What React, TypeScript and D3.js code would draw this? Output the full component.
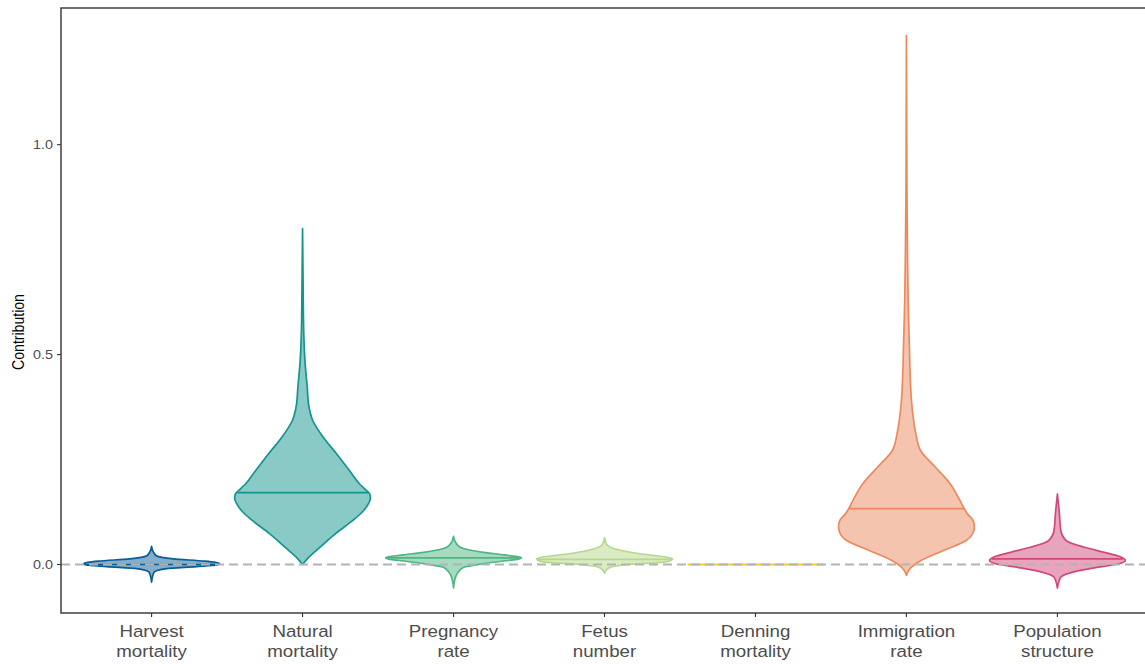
import React from "react";
import * as d3 from "d3";

// Category labels (two lines each)
const labelTop = ["Harvest", "Natural", "Pregnancy", "Fetus", "Denning", "Immigration", "Population"];
const labelBottom = ["mortality", "mortality", "rate", "number", "mortality", "rate", "structure"];

// Density profiles: [contribution value, relative half-width (1 = widest)]
const harvestDensity: [number, number][] = [
  [-0.042, 0], [-0.03, 0.012], [-0.018, 0.04], [-0.01, 0.22], [-0.005, 0.66], [-0.001, 0.96],
  [0.002, 1], [0.005, 0.94], [0.008, 0.78], [0.0135, 0.32], [0.021, 0.07], [0.03, 0.025], [0.043, 0],
];
const naturalDensity: [number, number][] = [
  [0, 0], [0.017, 0.09], [0.04, 0.25], [0.074, 0.49], [0.105, 0.74], [0.125, 0.88], [0.145, 0.97],
  [0.158, 1], [0.168, 0.99], [0.178, 0.93], [0.19, 0.85], [0.224, 0.69], [0.264, 0.5],
  [0.302, 0.31], [0.343, 0.15], [0.38, 0.09], [0.42, 0.07], [0.486, 0.035], [0.55, 0.018],
  [0.6, 0.012], [0.7, 0.006], [0.8, 0],
];
const pregnancyDensity: [number, number][] = [
  [-0.056, 0], [-0.03, 0.03], [-0.018, 0.07], [-0.0064, 0.15], [0.0016, 0.42], [0.0095, 0.8],
  [0.013, 0.95], [0.016, 1], [0.019, 0.93], [0.023, 0.75], [0.029, 0.44], [0.041, 0.1],
  [0.053, 0.03], [0.067, 0],
];
const fetusDensity: [number, number][] = [
  [-0.021, 0], [-0.012, 0.03], [-0.006, 0.1], [0, 0.37], [0.0056, 0.88], [0.01, 0.98],
  [0.0135, 1], [0.018, 0.9], [0.025, 0.55], [0.037, 0.16], [0.048, 0.03], [0.064, 0],
];
const denningDensity: [number, number][] = [[0, 1]];
const immigrationDensity: [number, number][] = [
  [-0.026, 0], [-0.015, 0.03], [-0.007, 0.07], [0.01, 0.22], [0.033, 0.54], [0.057, 0.88],
  [0.075, 0.98], [0.09, 1], [0.105, 0.98], [0.12, 0.9], [0.133, 0.85], [0.152, 0.79],
  [0.193, 0.64], [0.231, 0.43], [0.271, 0.21], [0.31, 0.14], [0.35, 0.1], [0.39, 0.074],
  [0.45, 0.055], [0.51, 0.045], [0.63, 0.025], [0.75, 0.015], [0.87, 0.008], [1.0, 0.005],
  [1.26, 0],
];
const populationDensity: [number, number][] = [
  [-0.056, 0], [-0.03, 0.05], [-0.018, 0.23], [-0.008, 0.54], [0, 0.86], [0.0095, 1],
  [0.019, 0.92], [0.029, 0.69], [0.041, 0.4], [0.057, 0.13], [0.081, 0.05], [0.12, 0.03],
  [0.168, 0],
];
const densities = [
  harvestDensity, naturalDensity, pregnancyDensity, fetusDensity,
  denningDensity, immigrationDensity, populationDensity,
];

// Medians drawn as horizontal lines across each violin
const medians = [0.0, 0.171, 0.016, 0.012, 0.0, 0.133, 0.0135];

const colors = ["#0B5D96", "#14948E", "#4CB783", "#B6D88C", "#F6C445", "#EC8A5E", "#D0497A"];

const yTicks = [0, 0.5, 1.0];

const W = 1145;
const H = 664;
const panel = { left: 61, top: 8, right: 1148, bottom: 613 };

function widthAt(profile: [number, number][], v: number): number {
  if (profile.length === 1) return profile[0][1];
  for (let i = 0; i < profile.length - 1; i++) {
    const [a, wa] = profile[i];
    const [b, wb] = profile[i + 1];
    if (v >= a && v <= b) return wa + ((v - a) / (b - a)) * (wb - wa);
  }
  return 0;
}

export default function App() {
  const x = d3
    .scaleBand<number>()
    .domain(d3.range(labelTop.length))
    .range([panel.left, panel.right])
    .paddingInner(0)
    .paddingOuter(0.1);
  const step = x.step();
  const cx = (i: number) => (x(i) as number) + x.bandwidth() / 2;
  const halfMax = (step * 0.9) / 2;

  const y = d3.scaleLinear().domain([-0.1155, 1.3255]).range([panel.bottom, panel.top]);

  return (
    <svg
      width={W}
      height={H}
      style={{ position: "absolute", left: 0, top: 0, display: "block", background: "#fff" }}
      fontFamily="'Liberation Sans', Arial, sans-serif"
    >
      <defs>
        <clipPath id="panelClip">
          <rect x={panel.left} y={panel.top} width={panel.right - panel.left} height={panel.bottom - panel.top} />
        </clipPath>
      </defs>
      <g clipPath="url(#panelClip)">
        {densities.map((prof, i) => {
          const c = cx(i);
          const col = colors[i];
          const mw = widthAt(prof, medians[i]) * halfMax;
          if (prof.length === 1) {
            const w = prof[0][1] * halfMax;
            return (
              <g key={i}>
                <line x1={c - w} x2={c + w} y1={y(prof[0][0])} y2={y(prof[0][0])} stroke={col} strokeWidth={1.8} />
              </g>
            );
          }
          const area = d3
            .area<[number, number]>()
            .y((d) => y(d[0]))
            .x0((d) => c - d[1] * halfMax)
            .x1((d) => c + d[1] * halfMax)
            .curve(d3.curveMonotoneY);
          return (
            <g key={i}>
              <path d={area(prof) || ""} fill={col} fillOpacity={0.5} stroke={col} strokeWidth={1.7} strokeLinejoin="round" />
              <line x1={c - mw} x2={c + mw} y1={y(medians[i])} y2={y(medians[i])} stroke={col} strokeWidth={1.7} />
            </g>
          );
        })}
        {/* reference line at zero */}
        <line
          x1={panel.left}
          x2={panel.right}
          y1={y(0)}
          y2={y(0)}
          stroke="#B3B3B3"
          strokeWidth={2}
          strokeDasharray="9,5"
        />
      </g>

      {/* panel border */}
      <rect
        x={panel.left}
        y={panel.top}
        width={panel.right - panel.left}
        height={panel.bottom - panel.top}
        fill="none"
        stroke="#333333"
        strokeWidth={1.4}
      />

      {/* y axis */}
      {yTicks.map((t) => (
        <g key={t}>
          <line x1={panel.left - 4} x2={panel.left} y1={y(t)} y2={y(t)} stroke="#333333" strokeWidth={1.1} />
          <text
            transform={`translate(${panel.left - 8}, ${y(t)}) scale(1.15, 1)`}
            dy="0.35em"
            textAnchor="end"
            fontSize={12.5}
            fill="#4D4D4D"
          >
            {d3.format(".1f")(t)}
          </text>
        </g>
      ))}
      <text
        transform={`translate(24, 332) scale(1, 0.88) rotate(-90)`}
        textAnchor="middle"
        fontSize={16}
        fill="#000"
      >
        Contribution
      </text>

      {/* x axis */}
      {labelTop.map((lab, i) => (
        <g key={lab}>
          <line x1={cx(i)} x2={cx(i)} y1={panel.bottom} y2={panel.bottom + 4} stroke="#333333" strokeWidth={1.1} />
          <g transform={`translate(${cx(i)}, 0) scale(1.1, 1)`}>
            <text x={0} y={637} textAnchor="middle" fontSize={17} fill="#4D4D4D">
              {lab}
            </text>
            <text x={0} y={657} textAnchor="middle" fontSize={17} fill="#4D4D4D">
              {labelBottom[i]}
            </text>
          </g>
        </g>
      ))}
    </svg>
  );
}
